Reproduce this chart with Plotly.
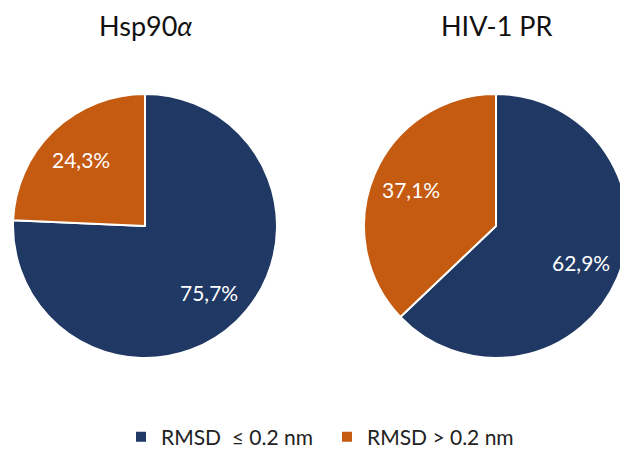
import math
import plotly.graph_objects as go

categories = ["RMSD  ≤ 0.2 nm", "RMSD > 0.2 nm"]
hsp90_values = [75.7, 24.3]
hiv_values = [62.9, 37.1]
titles = ["Hsp90<i>α</i>", "HIV-1 PR"]
colors = ["#203864", "#C55A11"]

# page body has an 8px margin, so the figure is drawn 8px in from the window edge
W, H = 620, 442
R = 132
centers = [(137, 218), (488, 218)]
LABEL_FRAC = 0.70

def dom(cx, cy, r):
    return dict(x=[(cx - r) / W, (cx + r) / W], y=[(H - cy - r) / H, (H - cy + r) / H])

fig = go.Figure()
for i, (vals, (cx, cy)) in enumerate(zip([hsp90_values, hiv_values], centers)):
    fig.add_trace(go.Pie(
        labels=categories,
        values=vals,
        sort=False,
        direction="clockwise",
        rotation=0,
        domain=dom(cx, cy, R),
        marker=dict(colors=colors, line=dict(color="white", width=2)),
        textinfo="none",
        showlegend=(i == 0),
        hoverinfo="label+percent",
    ))
    # percentage labels placed along each slice's mid-angle, as in the original
    total = sum(vals)
    start = 0.0
    for v in vals:
        mid = (start + v / 2) / total * 2 * math.pi
        start += v
        px = cx + LABEL_FRAC * R * math.sin(mid)
        py = cy - LABEL_FRAC * R * math.cos(mid)
        fig.add_annotation(text=f"{v / total * 100:.1f}%".replace(".", ","),
                           x=px / W, y=(H - py) / H, xref="paper", yref="paper",
                           showarrow=False, xanchor="center", yanchor="middle",
                           font=dict(size=21, color="white", family="Lato"))

for t, (cx, cy) in zip(titles, centers):
    fig.add_annotation(text=t, x=cx / W, y=(H - 18) / H, xref="paper", yref="paper",
                       showarrow=False, xanchor="center", yanchor="middle",
                       font=dict(size=27, color="#111111", family="Lato"))

fig.update_layout(
    width=W, height=H,
    margin=dict(l=0, r=0, t=0, b=0, autoexpand=False),
    paper_bgcolor="white",
    separators=",.",
    font=dict(family="Lato", color="#222222"),
    legend=dict(orientation="h", x=113 / W, xanchor="left", y=(H - 429) / H, yanchor="middle",
                font=dict(size=21, family="Lato", color="#222222"),
                entrywidth=161, entrywidthmode="pixels", itemwidth=30, traceorder="normal"),
)

fig.write_html("out.html")
